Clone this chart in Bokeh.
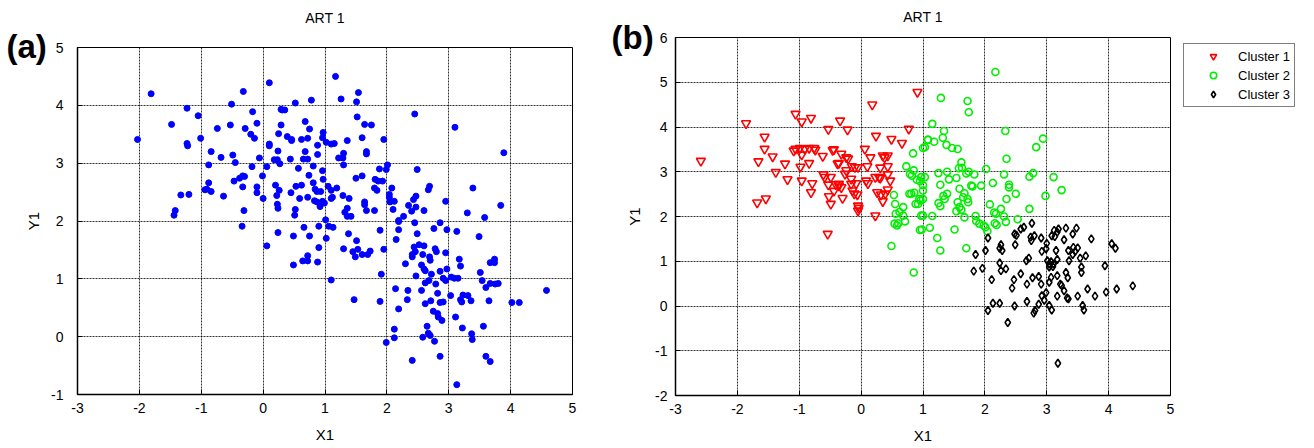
from bokeh.plotting import figure
from bokeh.layouts import row
from bokeh.models import FixedTicker, Legend, LegendItem, LinearAxis, Range1d, Title
from bokeh.embed import file_html
from bokeh.resources import INLINE

FONT = "Liberation Sans"

# ---------------- data ----------------
x_ticks = [-3, -2, -1, 0, 1, 2, 3, 4, 5]
a_y_ticks = [-1, 0, 1, 2, 3, 4, 5]
b_y_ticks = [-2, -1, 0, 1, 2, 3, 4, 5, 6]
cluster_labels = ["Cluster 1", "Cluster 2", "Cluster 3"]

a_pts = [
    (-1.81, 4.20), (-2.03, 3.41), (-1.23, 3.95), (-1.05, 3.82), (-1.48, 3.67), (-1.23, 3.34), (-1.22, 3.30),
    (-1.01, 3.43), (-0.84, 3.20), (-0.74, 3.60), (-0.68, 3.10), (-0.53, 3.66), (-0.51, 4.02), (-0.32, 4.24),
    (-0.17, 3.89), (-0.10, 3.69), (-0.29, 3.60), (-0.20, 3.50), (-0.14, 3.43), (-0.49, 3.14), (-0.45, 3.01),
    (-0.88, 2.97), (-0.06, 3.09), (0.10, 4.39), (0.10, 3.33), (0.10, 3.30), (0.29, 3.93), (0.35, 3.92),
    (0.31, 3.92), (0.29, 3.66), (0.25, 3.51), (0.39, 3.46), (0.46, 3.41), (0.46, 3.39), (0.24, 3.21),
    (0.18, 3.06), (0.23, 3.06), (0.27, 2.99), (0.44, 3.07), (0.52, 4.04), (0.78, 4.09), (0.68, 3.72),
    (0.75, 3.59), (0.62, 3.41), (0.72, 3.43), (0.68, 3.20), (0.88, 3.31), (0.88, 3.15), (0.65, 3.07),
    (0.72, 3.07), (0.57, 2.91), (0.81, 2.95), (0.06, 2.94), (-0.18, 2.94), (-0.01, 2.78), (-0.33, 2.78),
    (-0.38, 2.74), (-0.30, 2.77), (-0.47, 2.69), (-0.88, 2.66), (-0.33, 2.59), (-0.10, 2.59), (-0.84, 2.51),
    (-0.10, 2.49), (0.00, 2.39), (0.20, 2.62), (0.26, 2.53), (0.22, 2.44), (0.45, 2.49), (0.53, 2.60),
    (0.62, 2.62), (0.74, 2.79), (0.81, 2.66), (0.84, 2.55), (0.87, 2.51), (0.59, 2.39), (0.72, 2.41),
    (0.83, 2.35), (0.87, 2.33), (0.92, 2.25), (-0.94, 2.54), (-0.91, 2.55), (-1.33, 2.45), (-1.20, 2.46),
    (-0.64, 2.43), (-1.42, 2.18), (-1.44, 2.10), (-0.31, 2.18), (0.23, 2.29), (0.24, 2.22), (0.52, 2.20),
    (0.51, 2.10),
    (-0.34, 1.91), (0.24, 1.80), (0.06, 1.57), (0.49, 1.74), (0.66, 1.89), (0.75, 1.74), (0.90, 1.91),
    (0.90, 1.54), (0.72, 1.40), (0.64, 1.31), (0.72, 1.31), (0.88, 1.29), (0.49, 1.24),
    (0.97, 3.53), (0.96, 3.44), (1.02, 3.36), (1.10, 3.33), (1.15, 3.34), (1.36, 3.39), (1.60, 3.44),
    (1.95, 3.41), (1.67, 3.20), (1.67, 3.16), (1.22, 3.09), (1.29, 3.09), (1.30, 3.17), (1.30, 2.97),
    (0.96, 2.87), (0.97, 2.72), (1.05, 2.60), (1.10, 2.53), (1.12, 2.41), (1.10, 2.39), (1.19, 2.57),
    (1.29, 2.44), (1.39, 2.39), (1.50, 2.74), (1.60, 2.78), (1.88, 2.90), (1.99, 2.89), (1.81, 2.72),
    (1.86, 2.69), (1.93, 2.69), (1.80, 2.57), (1.84, 2.53), (2.01, 2.97), (2.49, 2.89), (2.08, 2.57),
    (2.04, 2.46), (2.04, 2.41), (2.05, 2.33), (2.12, 2.34), (2.10, 2.20), (1.64, 2.33), (1.64, 2.28),
    (1.67, 2.18), (1.80, 2.18), (0.96, 2.34), (0.99, 2.31), (1.32, 2.15), (1.36, 2.08), (1.42, 2.08),
    (1.36, 2.22), (1.01, 2.02), (2.67, 2.54), (2.69, 2.60), (2.47, 2.43), (2.43, 2.37), (2.35, 2.27),
    (2.47, 2.24), (2.40, 2.17), (2.60, 2.18), (2.27, 2.08), (2.19, 2.01), (2.95, 2.34), (3.39, 2.57),
    (3.30, 2.14), (3.58, 2.06), (3.84, 2.27), (0.93, 2.51), (1.17, 4.50), (1.26, 4.11), (1.51, 4.06),
    (1.54, 4.22), (1.52, 3.80), (1.64, 3.67), (1.75, 3.66), (2.45, 3.85), (3.10, 3.62), (3.89, 3.18),
    (1.06, 1.91), (1.13, 1.89), (1.02, 1.70), (1.38, 1.78), (1.51, 1.66), (1.30, 1.52), (1.45, 1.47),
    (1.53, 1.51), (1.49, 1.38), (1.60, 1.42), (1.69, 1.42), (1.73, 1.48), (1.89, 1.84), (1.95, 1.51),
    (1.91, 1.08), (1.10, 0.98), (1.47, 0.64), (1.89, 0.61), (2.19, 1.99), (2.45, 1.97), (2.19, 1.85),
    (2.15, 1.68), (2.49, 1.78), (2.76, 1.87), (2.86, 1.97), (2.97, 1.85), (3.13, 1.82), (3.49, 1.73),
    (2.44, 1.55), (2.52, 1.59), (2.60, 1.57), (2.46, 1.47), (2.41, 1.42), (2.41, 1.38), (2.58, 1.42),
    (2.69, 1.38), (2.70, 1.32), (2.78, 1.52), (2.80, 1.47), (2.95, 1.45), (2.30, 1.26), (2.56, 1.24),
    (2.60, 1.17), (2.62, 1.14), (2.47, 1.05), (2.72, 1.08), (2.86, 1.13), (2.97, 1.17), (2.68, 0.97),
    (2.62, 0.93), (2.79, 0.91), (2.91, 1.01), (2.95, 0.97), (3.04, 1.03), (3.09, 1.01), (3.15, 1.01),
    (3.17, 1.34), (3.19, 1.22), (3.51, 1.11), (3.54, 0.97), (3.60, 0.85), (3.67, 0.92), (3.75, 0.91),
    (3.80, 0.92), (3.67, 1.28), (3.74, 1.34), (3.74, 1.28), (2.14, 0.83), (2.34, 0.80), (2.56, 0.80),
    (2.33, 0.64), (2.19, 0.48), (2.62, 0.57), (2.71, 0.62), (2.82, 0.75), (2.86, 0.59), (2.91, 0.60),
    (3.03, 0.71), (3.19, 0.64), (3.21, 0.60), (3.23, 0.72), (3.31, 0.71), (3.36, 0.62), (3.65, 0.62),
    (4.02, 0.59), (4.14, 0.59), (4.58, 0.80), (2.75, 0.44), (2.82, 0.40), (2.83, 0.34), (2.89, 0.28),
    (3.11, 0.34), (2.65, 0.18), (3.22, 0.15), (3.56, 0.18), (3.37, 0.05), (3.38, -0.05), (2.12, 0.13),
    (2.12, -0.02), (1.99, -0.10), (2.58, -0.01), (2.67, 0.06), (2.70, 0.02), (2.77, -0.08), (2.86, -0.34),
    (2.41, -0.41), (3.60, -0.34), (3.67, -0.43), (3.13, -0.83),
]
a_x = [p[0] for p in a_pts]
a_y = [p[1] for p in a_pts]

c1_pts = [
    (-2.59, 3.24), (-1.86, 4.08), (-1.56, 3.78), (-1.56, 3.51), (-1.66, 3.23), (-1.43, 3.34), (-1.23, 3.18),
    (-1.38, 2.99), (-1.19, 2.83), (-1.68, 2.31), (-1.54, 2.40), (-1.06, 4.29), (-0.96, 4.12), (-0.81, 4.20),
    (-1.06, 3.51), (-0.99, 3.53), (-0.91, 3.51), (-0.84, 3.53), (-0.76, 3.53), (-0.74, 3.49), (-1.09, 3.47),
    (-0.96, 3.38), (-0.98, 3.11), (-0.84, 3.19), (-0.96, 2.80), (-0.79, 2.74), (-0.81, 2.54), (-0.62, 3.35),
    (-0.53, 3.95), (-0.34, 4.14), (-0.22, 3.94), (-0.44, 3.50), (-0.46, 3.48), (-0.32, 3.40), (-0.24, 3.32),
    (-0.21, 3.29), (-0.38, 3.18), (-0.36, 3.19), (-0.24, 3.03), (-0.26, 2.95), (-0.61, 2.94), (-0.59, 2.88),
    (-0.49, 2.88), (-0.53, 2.71), (-0.41, 2.72), (-0.36, 2.69), (-0.32, 2.65), (-0.36, 2.73), (-0.44, 2.57),
    (-0.52, 2.45), (-0.49, 2.28), (-0.30, 2.41), (-0.15, 3.12), (-0.10, 3.10), (-0.05, 3.10), (-0.16, 2.84),
    (-0.16, 2.73), (-0.08, 2.74), (-0.14, 2.58), (-0.11, 2.51), (-0.06, 2.49), (-0.05, 2.24), (-0.05, 2.13),
    (-0.04, 2.19), (0.06, 3.51), (0.15, 3.32), (0.10, 3.12), (0.08, 2.80), (0.11, 2.74), (0.18, 4.50),
    (0.24, 3.80), (0.23, 2.88), (0.29, 2.88), (0.31, 2.86), (0.35, 3.36), (0.38, 3.32), (0.43, 3.36),
    (0.31, 3.09), (0.43, 3.12), (0.43, 2.94), (0.47, 2.80), (0.26, 2.54), (0.32, 2.49), (0.39, 2.51),
    (0.35, 2.34), (0.43, 2.60), (0.23, 2.02), (0.49, 3.73), (0.66, 3.64), (0.77, 3.96), (0.91, 4.78),
    (-0.54, 1.61),
]
c1_x = [p[0] for p in c1_pts]
c1_y = [p[1] for p in c1_pts]

c2_pts = [
    (0.53, 2.48), (0.55, 2.28), (0.68, 2.21), (0.62, 2.10), (0.68, 2.02), (0.71, 1.89), (0.73, 3.12),
    (0.79, 2.95), (0.82, 2.91), (0.85, 3.03), (0.84, 3.41), (0.95, 2.79), (0.97, 2.88), (1.03, 2.88),
    (0.81, 2.51), (0.86, 2.53), (0.92, 2.28), (0.96, 2.36), (1.03, 3.55), (1.08, 3.71), (1.00, 2.02),
    (0.98, 1.71), (2.17, 5.23), (1.29, 4.65), (1.72, 4.58), (1.74, 4.33), (1.15, 4.07), (1.34, 3.91),
    (1.32, 3.76), (1.08, 3.72), (1.18, 3.67), (1.38, 3.60), (1.47, 3.53), (1.56, 3.51), (1.00, 3.53),
    (0.90, 2.82), (1.00, 2.70), (1.00, 2.58), (0.94, 2.39), (0.88, 2.28), (1.00, 2.39), (0.78, 2.51),
    (1.25, 2.97), (1.39, 3.00), (1.42, 2.83), (1.54, 2.86), (1.62, 3.21), (1.58, 3.08), (1.63, 3.09),
    (1.74, 3.00), (1.83, 2.94), (1.70, 2.96), (1.28, 2.71), (1.59, 2.62), (1.67, 2.52), (1.65, 2.43),
    (1.73, 2.32), (1.72, 2.39), (1.33, 2.46), (1.39, 2.51), (1.35, 2.39), (1.25, 2.30), (1.28, 2.23),
    (1.56, 2.32), (1.59, 2.21), (1.54, 2.12), (1.62, 2.15), (1.78, 2.69), (1.80, 2.67), (1.94, 2.69),
    (2.02, 3.06), (2.13, 2.75), (2.33, 3.91), (2.35, 3.29), (2.31, 2.94), (2.39, 2.71), (2.39, 2.65),
    (2.50, 2.51), (2.35, 2.39), (2.08, 2.27), (2.26, 2.17), (2.15, 2.09), (2.18, 2.06), (2.72, 2.89),
    (2.78, 2.97), (2.83, 3.55), (2.94, 3.74), (3.11, 2.88), (3.24, 2.59), (2.98, 2.46), (2.72, 2.17),
    (1.85, 2.01), (1.86, 1.90), (1.91, 1.84), (1.67, 1.98), (1.51, 1.71), (1.15, 2.01), (0.97, 2.02),
    (1.11, 1.75), (0.95, 1.70), (2.53, 1.94), (2.31, 2.00), (2.34, 1.88), (2.16, 1.85), (2.19, 1.81),
    (1.98, 1.80), (2.01, 1.76), (1.23, 1.52), (1.28, 1.24), (1.70, 1.29), (2.04, 1.67), (0.85, 0.75),
    (0.56, 2.06), (0.54, 1.84), (0.58, 1.80), (0.60, 1.85), (0.49, 1.34),
]
c2_x = [p[0] for p in c2_pts]
c2_y = [p[1] for p in c2_pts]

c3_pts = [
    (2.76, 1.85), (2.63, 1.76), (2.58, 1.72), (2.48, 1.61), (2.51, 1.58), (2.05, 1.52), (2.74, 1.54),
    (2.75, 1.46), (2.80, 1.57), (2.91, 1.52), (2.49, 1.37), (2.26, 1.37), (2.24, 1.29), (2.28, 1.24),
    (2.01, 1.24), (1.85, 1.15), (1.82, 0.78), (1.96, 0.84), (2.24, 0.96), (2.26, 0.79), (2.34, 0.83),
    (2.11, 0.59), (2.67, 1.01), (2.71, 1.07), (2.58, 0.72), (2.47, 0.59), (2.44, 0.40), (2.68, 0.49),
    (2.77, 0.63), (2.87, 0.66), (3.00, 1.40), (2.92, 1.22), (2.99, 1.28), (3.12, 1.69), (3.17, 1.65),
    (3.19, 1.72), (3.31, 1.74), (3.28, 1.48), (3.13, 1.55), (3.08, 1.57), (3.42, 1.61), (3.48, 1.74),
    (3.72, 1.50), (3.15, 1.24), (3.35, 1.24), (3.43, 1.31), (3.50, 1.30), (3.46, 1.22), (3.42, 1.15),
    (3.36, 1.01), (3.54, 1.07), (3.63, 1.12), (3.01, 1.01), (3.04, 0.94), (3.07, 0.99), (3.11, 0.94),
    (3.17, 1.04), (3.04, 0.87), (3.10, 0.88), (3.56, 0.87), (3.56, 0.75), (3.31, 0.75), (3.34, 0.63),
    (3.17, 0.68), (3.07, 0.64), (3.04, 0.53), (3.22, 0.49), (3.24, 0.46), (3.28, 0.34), (3.33, 0.18),
    (3.35, 0.16), (3.17, 0.22), (2.91, 0.49), (2.99, 0.30), (2.92, 0.23), (2.96, 0.13), (2.87, 0.04),
    (2.81, -0.10), (2.79, -0.16), (3.04, 0.01), (3.08, -0.09), (2.68, 0.10), (2.48, 0.00), (2.24, 0.06),
    (2.13, 0.06), (2.05, -0.10), (2.37, -0.37), (3.50, 0.22), (3.58, 0.01), (3.60, -0.09), (3.66, 0.38),
    (3.78, 0.22), (3.94, 0.90), (3.96, 0.31), (4.13, 0.38), (4.05, 1.39), (4.11, 1.29), (4.39, 0.45),
    (3.18, -1.28),
]
c3_x = [p[0] for p in c3_pts]
c3_y = [p[1] for p in c3_pts]

HYPHEN = {v: str(v) for v in range(-3, 0)}

MARK1 = dict(marker="inverted_triangle", size=9, fill_color=None, line_color="#ff0000", line_width=1.6)
MARK2 = dict(marker="circle", size=7, fill_color=None, line_color="#00ee00", line_width=1.6)
MARK3 = dict(marker="diamond", size=8, fill_color=None, line_color="black", line_width=1.6)


# ---------------- styling helper ----------------
def style(p, yticks, ylab_standoff, ylab_axis_standoff):
    p.xaxis.ticker = FixedTicker(ticks=x_ticks)
    p.yaxis.ticker = FixedTicker(ticks=yticks)
    for ax in (p.xaxis[0], p.yaxis[0]):
        ax.axis_line_color = "black"
        ax.axis_line_width = 1.5
        ax.major_tick_in = 5
        ax.major_tick_out = 0
        ax.major_tick_line_color = "black"
        ax.minor_tick_line_color = None
        ax.major_label_text_font = FONT
        ax.major_label_text_font_size = "14px"
        ax.major_label_text_color = "black"
        ax.major_label_overrides = dict(HYPHEN)
        ax.axis_label_text_font = FONT
        ax.axis_label_text_font_size = "15px"
        ax.axis_label_text_font_style = "normal"
        ax.axis_label_text_color = "black"
    p.xaxis.major_label_standoff = 8
    p.xaxis.axis_label_standoff = 10
    p.yaxis.major_label_standoff = ylab_standoff
    p.yaxis.axis_label_standoff = ylab_axis_standoff
    for g in (p.xgrid[0], p.ygrid[0]):
        g.grid_line_color = "black"
        g.grid_line_alpha = 0.8
        g.grid_line_dash = "2 1"
        g.grid_line_width = 1
    p.outline_line_color = "black"
    p.outline_line_width = 1
    p.background_fill_color = "white"
    p.border_fill_color = "white"


def add_titles(p, tag, tag_offset, tag_standoff, art_standoff):
    # inner panel: bold panel tag (vertically centred in its own panel)
    p.add_layout(Title(text=tag, align="left", vertical_align="middle", offset=tag_offset,
                       standoff=tag_standoff, text_font=FONT, text_font_size="33px",
                       text_font_style="bold", text_color="black"), "above")
    # outer panel: chart title, shown as the label of a bare top axis
    p.add_layout(LinearAxis(axis_label="ART 1", ticker=FixedTicker(ticks=[]),
                            axis_line_color=None, major_tick_line_color=None,
                            minor_tick_line_color=None, major_tick_in=0, major_tick_out=0,
                            major_label_standoff=0, axis_label_standoff=art_standoff,
                            axis_label_text_font=FONT, axis_label_text_font_size="14px",
                            axis_label_text_font_style="normal", axis_label_text_color="black"),
                 "above")


# ---------------- panel (a) ----------------
pa = figure(width=592, height=446, output_backend="svg", toolbar_location=None,
            x_range=Range1d(-3, 5), y_range=Range1d(-1, 5), frame_align=False,
            x_axis_label="X1", y_axis_label="Y1",
            min_border_left=77, min_border_right=20, min_border_top=47, min_border_bottom=52)
style(pa, a_y_ticks, 14, 6)
add_titles(pa, "(a)", -71, -36, 19)
pa.scatter(a_x, a_y, marker="circle", size=6, fill_color="#0000ff", line_color="#0000ff")

# ---------------- panel (b) ----------------
pb = figure(width=583, height=446, output_backend="svg", toolbar_location=None,
            x_range=Range1d(-3, 5), y_range=Range1d(-2, 6), frame_align=False,
            x_axis_label="X1", y_axis_label="Y1",
            min_border_left=83, min_border_right=5, min_border_top=37, min_border_bottom=51)
style(pb, b_y_ticks, 8, 9)
add_titles(pb, "(b)", -64, -55, 13)
pb.scatter(c1_x, c1_y, **MARK1)
pb.scatter(c2_x, c2_y, **MARK2)
pb.scatter(c3_x, c3_y, **MARK3)

# ---------------- legend strip (own small canvas to the right of panel b) ----------------
# one sample point per cluster, lying outside this strip's visible range, gives the
# legend its glyph styles without drawing anything in the strip itself
pl = figure(width=131, height=446, output_backend="svg", toolbar_location=None,
            x_range=Range1d(10, 11), y_range=Range1d(10, 11), frame_align=False,
            x_axis_location=None, y_axis_location=None,
            min_border_left=0, min_border_right=0, min_border_top=0, min_border_bottom=0)
pl.grid.visible = False
pl.outline_line_color = None
pl.background_fill_color = "white"
pl.border_fill_color = "white"
l1 = pl.scatter(c1_x[:1], c1_y[:1], **MARK1)
l2 = pl.scatter(c2_x[:1], c2_y[:1], **MARK2)
l3 = pl.scatter(c3_x[:1], c3_y[:1], **MARK3)
legend = Legend(items=[LegendItem(label=cluster_labels[0], renderers=[l1]),
                       LegendItem(label=cluster_labels[1], renderers=[l2]),
                       LegendItem(label=cluster_labels[2], renderers=[l3])],
                location=(8, 339), margin=0, padding=4, spacing=3,
                glyph_width=50, glyph_height=16, label_height=16, label_standoff=0,
                label_text_font=FONT, label_text_font_size="13px", label_text_color="black",
                border_line_color="black", border_line_width=1, background_fill_color="white")
pl.add_layout(legend, "center")

layout = row(pa, pb, pl)
open("out.html", "w").write(file_html(layout, INLINE))
